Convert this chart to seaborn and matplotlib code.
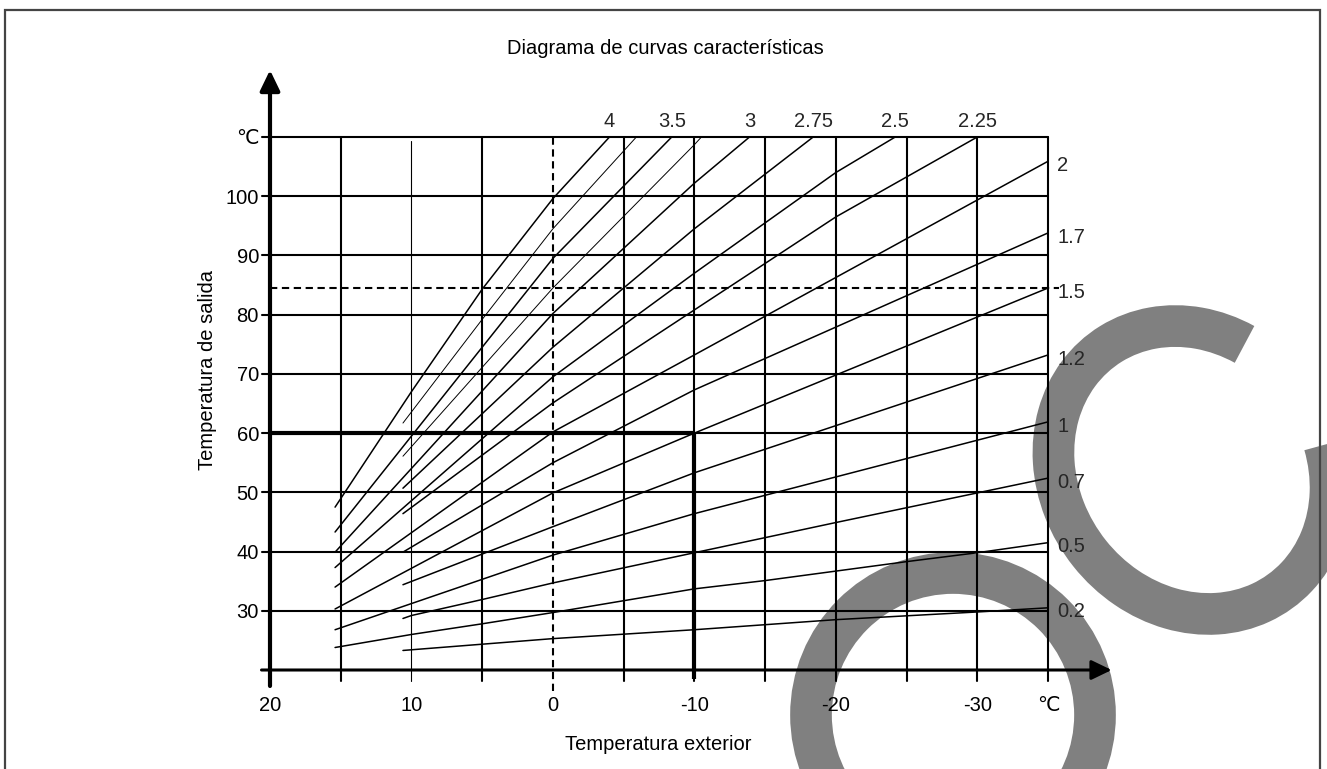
import matplotlib
matplotlib.use("Agg")
import matplotlib.pyplot as plt
import seaborn as sns
import pandas as pd
from matplotlib.patches import Arc, Circle, Rectangle

c4_x = [15.4, 10, 5, 0, -4.0]
c4_y = [47.5, 67.0, 84.3, 99.6, 110]
c375_x = [10.6, 5, 0, -5.9]
c375_y = [61.7, 79.2, 94.5, 110]
c35_x = [15.4, 0, -8.4]
c35_y = [43.3, 89.5, 110]
c325_x = [10.6, 0, -10, -10.5]
c325_y = [56.1, 84.5, 108.7, 110]
c3_x = [15.4, 0, -10, -13.9]
c3_y = [39.9, 80.2, 102.2, 110]
c275_x = [10.6, 0, -10, -18.4]
c275_y = [50.7, 74.5, 94.5, 110]
c25_x = [15.4, 0, -10, -20, -24.2]
c25_y = [37.3, 69.5, 87.0, 104.0, 110]
c225_x = [10.6, 0, -10, -20, -30.0]
c225_y = [46.4, 65.1, 80.8, 96.5, 110]
c2_x = [15.4, 0, -10, -35]
c2_y = [34.0, 60.2, 73.2, 105.9]
c17_x = [10.6, 0, -10, -35]
c17_y = [39.9, 55.0, 67.3, 93.8]
c15_x = [15.4, 0, -10, -35]
c15_y = [30.3, 49.9, 60.0, 84.5]
c12_x = [10.6, 0, -10, -35]
c12_y = [34.4, 44.2, 53.3, 73.2]
c1_x = [15.4, 0, -10, -35]
c1_y = [26.8, 39.4, 46.4, 61.9]
c07_x = [10.6, 10, 5, 0, -10, -20, -35]
c07_y = [28.7, 29.2, 31.9, 34.7, 39.8, 44.9, 52.4]
c05_x = [15.4, 10, 5, 0, -10, -15, -20, -25, -30, -35]
c05_y = [23.8, 26.0, 27.8, 29.7, 33.7, 35.1, 36.7, 38.3, 39.8, 41.5]
c02_x = [10.6, 0, -10, -20, -30, -35]
c02_y = [23.3, 25.3, 26.8, 28.5, 29.8, 30.5]

etiquetas = ["4", "", "3.5", "", "3", "2.75", "2.5", "2.25",
             "2", "1.7", "1.5", "1.2", "1", "0.7", "0.5", "0.2"]
curvas_x = [c4_x, c375_x, c35_x, c325_x, c3_x, c275_x, c25_x, c225_x,
            c2_x, c17_x, c15_x, c12_x, c1_x, c07_x, c05_x, c02_x]
curvas_y = [c4_y, c375_y, c35_y, c325_y, c3_y, c275_y, c25_y, c225_y,
            c2_y, c17_y, c15_y, c12_y, c1_y, c07_y, c05_y, c02_y]

# ejes y cuadrícula
x_ticks = [20, 10, 0, -10, -20, -30, -35]
x_ticklabels = ["20", "10", "0", "-10", "-20", "-30", "\u2103"]
y_ticks = [30, 40, 50, 60, 70, 80, 90, 100, 110]
y_ticklabels = ["30", "40", "50", "60", "70", "80", "90", "100", "\u2103"]
grid_x = [15, 10, 5, 0, -5, -10, -15, -20, -25, -30, -35]
grid_y = [30, 40, 50, 60, 70, 80, 90, 100, 110]
ref_salida = 84.5      # linea discontinua horizontal
ref_exterior = 0       # linea discontinua vertical
ejemplo = (-10, 60)    # punto de ejemplo (lineas gruesas)

FS = 14.5

sns.set_theme(style="white")
plt.rcParams["font.family"] = ["Liberation Sans", "DejaVu Sans"]

fig = plt.figure(figsize=(13.27, 7.69), dpi=100)

# fondo: marca de agua gris y marco
bg = fig.add_axes([0, 0, 1, 1])
bg.set_xlim(0, 1327)
bg.set_ylim(0, 769)
bg.axis("off")
bg.add_patch(Arc((1192, 299), 300, 264, angle=-53.7, theta1=121,
                 theta2=424.5, lw=30, color="#808080", capstyle="butt"))
bg.add_patch(Circle((953, 54), 142, fill=False, lw=30,
                    edgecolor="#808080"))
fig.add_artist(Rectangle((5 / 1327, -0.1), 1315 / 1327, 1.1 - 10 / 769,
                         transform=fig.transFigure, fill=False,
                         lw=1.6, edgecolor="#444444"))

ax = fig.add_axes([270 / 1327, 1 - 670 / 769, 778 / 1327, 533 / 769])
ax.patch.set_alpha(0)
ax.set_xlim(20, -35)
ax.set_ylim(20, 110)
for s in ax.spines.values():
    s.set_visible(False)

# cuadrícula
for gx in grid_x:
    if gx == ref_exterior:
        ax.plot([gx, gx], [16.5, 110], color="black", lw=1.5,
                ls=(0, (3.5, 2.2)), clip_on=False)
    else:
        ax.plot([gx, gx], [18.2, 110 if gx != 10 else 109.3], color="black",
                lw=0.8 if gx == 10 else 1.5, clip_on=False)
for gy in grid_y:
    ax.plot([20.6, -35], [gy, gy], color="black", lw=1.5, clip_on=False)
ax.plot([20, -35.8], [ref_salida, ref_salida], color="black", lw=1.5,
        ls=(0, (3.5, 2.2)), clip_on=False)

# punto de ejemplo
ax.plot([20, ejemplo[0]], [ejemplo[1], ejemplo[1]], color="black", lw=3,
        solid_capstyle="butt", clip_on=False)
ax.plot([ejemplo[0], ejemplo[0]], [ejemplo[1], 18.5], color="black", lw=3,
        solid_capstyle="butt", clip_on=False)

# curvas
for i, (lab, xs, ys) in enumerate(zip(etiquetas, curvas_x, curvas_y)):
    df = pd.DataFrame({"exterior": xs, "salida": ys})
    sns.lineplot(data=df, x="exterior", y="salida", ax=ax, color="black",
                 lw=0.7 if lab == "" else 1.1, sort=False, estimator=None)
    if lab == "":
        continue
    if ys[-1] >= 110:
        ax.annotate(lab, (xs[-1], ys[-1]), xytext=(0, 4),
                    textcoords="offset points", ha="center", va="bottom",
                    fontsize=FS, annotation_clip=False)
    else:
        ax.annotate(lab, (xs[-1], ys[-1]), xytext=(6.5, -3),
                    textcoords="offset points", ha="left", va="center",
                    fontsize=FS, annotation_clip=False)

# ejes con flecha
ax.annotate("", xy=(20, 121.3), xytext=(20, 17.3),
            arrowprops=dict(arrowstyle="-|>,head_length=0.62,head_width=0.3",
                            lw=3, color="black", mutation_scale=20,
                            shrinkA=0, shrinkB=0),
            annotation_clip=False)
ax.annotate("", xy=(-39.5, 20), xytext=(20.6, 20),
            arrowprops=dict(arrowstyle="-|>,head_length=0.62,head_width=0.3",
                            lw=2.2, color="black", mutation_scale=20,
                            shrinkA=0, shrinkB=0),
            annotation_clip=False)

ax.set_xticks(x_ticks)
ax.set_xticklabels(x_ticklabels)
ax.set_yticks(y_ticks)
ax.set_yticklabels(y_ticklabels)
ax.tick_params(axis="x", length=0, pad=19, labelsize=FS, colors="black")
ax.tick_params(axis="y", length=0, pad=8, labelsize=FS, colors="black")
ax.grid(False)

ax.set_xlabel("Temperatura exterior", fontsize=FS, color="black")
ax.xaxis.set_label_coords(0.4987, -0.1407)
ax.xaxis.label.set_va("center")
ax.set_ylabel("Temperatura de salida", fontsize=FS, color="black")
ax.yaxis.set_label_coords(-0.0797, 0.563)
ax.yaxis.label.set_va("center")
ax.set_title("Diagrama de curvas características", fontsize=FS,
             color="black", x=0.5077, y=1.141)

fig.savefig("out.png", dpi=100)
